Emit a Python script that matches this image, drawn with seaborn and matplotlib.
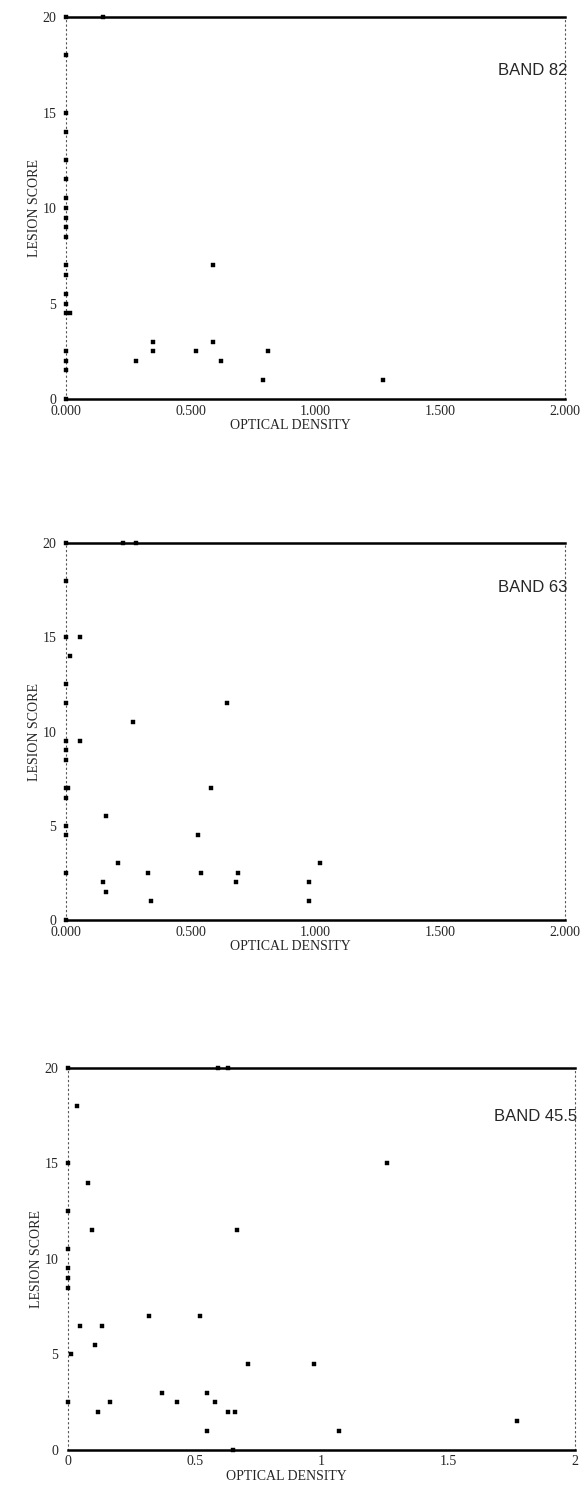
import matplotlib
matplotlib.use("Agg")
import matplotlib.pyplot as plt
import seaborn as sns
import pandas as pd

# Band 82
od_82 = [0, 0, 0, 0, 0, 0, 0, 0, 0, 0, 0, 0, 0, 0, 0, 0, 0.015, 0, 0, 0, 0,
         0.15, 0.28, 0.35, 0.35, 0.52, 0.59, 0.59, 0.62, 0.81, 0.79, 1.27]
score_82 = [20, 18, 15, 14, 12.5, 11.5, 10.5, 10, 9.5, 9, 8.5, 7, 6.5, 5.5, 5, 4.5, 4.5, 2.5, 2, 1.5, 0,
            20, 2, 3, 2.5, 2.5, 7, 3, 2, 2.5, 1, 1]

# Band 63
od_63 = [0, 0, 0, 0, 0, 0, 0, 0, 0, 0.01, 0, 0, 0, 0, 0,
         0.016, 0.056, 0.056, 0.23, 0.28, 0.27, 0.645, 0.58, 0.16, 0.53, 0.21,
         0.33, 0.54, 0.69, 0.15, 0.68, 0.16, 0.34, 1.02, 0.975, 0.975]
score_63 = [20, 18, 15, 12.5, 11.5, 9.5, 9, 8.5, 7, 7, 6.5, 5, 4.5, 2.5, 0,
            14, 15, 9.5, 20, 20, 10.5, 11.5, 7, 5.5, 4.5, 3,
            2.5, 2.5, 2.5, 2, 2, 1.5, 1, 3, 2, 1]

# Band 45.5
od_45 = [0, 0, 0, 0, 0, 0, 0, 0.01, 0,
         0.59, 0.63, 0.035, 0.08, 1.26, 0.094, 0.665, 0.32, 0.52, 0.047, 0.135,
         0.107, 0.71, 0.97, 0.37, 0.55, 0.165, 0.43, 0.58, 0.118, 0.63, 0.66,
         1.07, 1.77, 0.55, 0.65]
score_45 = [20, 15, 12.5, 10.5, 9.5, 9, 8.5, 5, 2.5,
            20, 20, 18, 14, 15, 11.5, 11.5, 7, 7, 6.5, 6.5,
            5.5, 4.5, 4.5, 3, 3, 2.5, 2.5, 2.5, 2, 2, 2,
            1, 1.5, 1, 0]

bands = ["BAND 82", "BAND 63", "BAND 45.5"]
xticks_main = [0, 0.5, 1.0, 1.5, 2.0]
xlabels_3dec = ["0.000", "0.500", "1.000", "1.500", "2.000"]
xlabels_short = ["0", "0.5", "1", "1.5", "2"]
yticks = [0, 5, 10, 15, 20]

sns.set_style("white")
plt.rcParams['font.family'] = ['Liberation Serif', 'DejaVu Serif']

fig = plt.figure(figsize=(5.86, 14.94), dpi=100)

# axes boxes in figure fractions
boxes = [
    [0.1126, 0.7329, 0.8515, 0.2557],
    [0.1126, 0.3842, 0.8515, 0.2523],
    [0.1160, 0.0295, 0.8650, 0.2557],
]
data = [(od_82, score_82), (od_63, score_63), (od_45, score_45)]
tick_labels = [xlabels_3dec, xlabels_3dec, xlabels_short]
band_y = [0.86, 0.883, 0.874]
xlabel_x = [0.45, 0.45, 0.43]

for i in range(3):
    ax = fig.add_axes(boxes[i])
    df = pd.DataFrame({"od": data[i][0], "score": data[i][1]})
    sns.scatterplot(data=df, x="od", y="score", ax=ax, marker="s", s=12,
                    color="black", edgecolor="black", linewidth=0.3,
                    clip_on=False, zorder=5)
    ax.set_xlim(0, 2)
    ax.set_ylim(0, 20)
    ax.set_xticks(xticks_main)
    ax.set_xticklabels(tick_labels[i], fontsize=10)
    ax.set_yticks(yticks)
    ax.set_yticklabels([str(v) for v in yticks], fontsize=10)
    ax.tick_params(axis="y", length=0, pad=7)
    ax.tick_params(axis="x", length=0, pad=4)

    # frame: heavy top and bottom, faint dotted sides
    ax.spines["top"].set_linewidth(1.8)
    ax.spines["bottom"].set_linewidth(1.8)
    ax.spines["top"].set_color("black")
    ax.spines["bottom"].set_color("black")
    for side in ["left", "right"]:
        ax.spines[side].set_linestyle((0, (1, 3)))
        ax.spines[side].set_linewidth(0.8)
        ax.spines[side].set_color("#555555")

    ax.set_xlabel("OPTICAL DENSITY", fontsize=10)
    ax.set_ylabel("LESION SCORE", fontsize=10)
    ax.xaxis.set_label_coords(xlabel_x[i], -0.052)
    ax.yaxis.set_label_coords(-0.05, 0.5)

    ax.text(1.005, band_y[i], bands[i], transform=ax.transAxes, ha="right",
            va="center", fontsize=12, family=["Liberation Sans", "DejaVu Sans"])

fig.savefig("out.png", dpi=100, facecolor="white")
